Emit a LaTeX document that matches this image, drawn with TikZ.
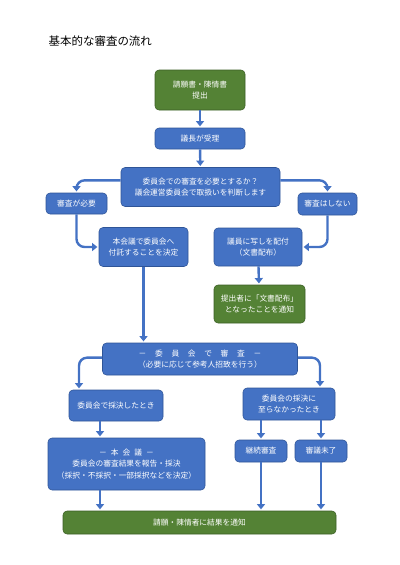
\documentclass[tikz,border=0pt]{standalone}
\usepackage{fontspec}
\setmainfont{Noto Sans CJK JP}
\usepackage{tikz}
\usetikzlibrary{arrows.meta,calc,positioning}
\definecolor{boxblue}{HTML}{4472C4}
\definecolor{boxblueline}{HTML}{2F5597}
\definecolor{boxgreen}{HTML}{548235}
\definecolor{boxgreenline}{HTML}{3B5E25}
\newcommand{\gapA}{\hspace{6.5pt}}
\newcommand{\gapB}{\hspace{3pt}}

\begin{document}
\begin{tikzpicture}[x=0.75pt,y=-0.75pt,
    bluebox/.style={draw=boxblueline,fill=boxblue,rounded corners=3pt,text=white,
        align=center,inner sep=0pt,font=\fontsize{5.8}{8.5}\selectfont},
    greenbox/.style={bluebox,draw=boxgreenline,fill=boxgreen},
    arr/.style={draw=boxblue,line width=1.8pt,rounded corners=6pt,
        -{Triangle[length=4pt,width=6pt]},shorten >=1pt}]
    \useasboundingbox (0,0) rectangle (400,565);
    \node[anchor=west,font=\fontsize{8.6}{10}\selectfont] (title) at (44,41) {基本的な審査の流れ};
    % upper part
    \node[greenbox,minimum width=90pt*0.75,minimum height=40pt*0.75] (submit) at (200,90) {請願書・陳情書\\提出};
    \node[bluebox,minimum width=90*0.75pt,minimum height=21*0.75pt] (accept) at (200,138.5) {議長が受理};
    \node[bluebox,minimum width=159*0.75pt,minimum height=39*0.75pt] (judge) at (200.5,187) {委員会での審査を必要とするか？\\議会運営委員会で取扱いを判断します};
    \node[bluebox,minimum width=61*0.75pt,minimum height=21*0.75pt] (need) at (76.5,203.5) {審査が必要};
    \node[bluebox,minimum width=59*0.75pt,minimum height=22*0.75pt] (noneed) at (327.5,204) {審査はしない};
    \node[bluebox,minimum width=89*0.75pt,minimum height=39*0.75pt] (refer) at (143.5,247) {本会議で委員会へ\\付託することを決定};
    \node[bluebox,minimum width=88*0.75pt,minimum height=38*0.75pt] (distrib) at (258,247) {議員に写しを配付\\（文書配布）};
    \node[greenbox,minimum width=91*0.75pt,minimum height=38*0.75pt] (notify) at (259.5,304) {提出者に「文書配布」\\となったことを通知};
    % committee part
    \node[bluebox,minimum width=195*0.75pt,minimum height=32*0.75pt] (review) at (200,359) {－\gapA 委\gapA 員\gapA 会\gapA で\gapA 審\gapA 査\gapA －\\（必要に応じて参考人招致を行う）};
    \node[bluebox,minimum width=94*0.75pt,minimum height=31*0.75pt] (voted) at (116,405.5) {委員会で採決したとき};
    \node[bluebox,minimum width=92*0.75pt,minimum height=32*0.75pt] (notvoted) at (289,404) {委員会の採決に\\至らなかったとき};
    \node[bluebox,minimum width=157*0.75pt,minimum height=52*0.75pt] (plenary) at (126.5,464) {－\gapB 本\gapB 会\gapB 議\gapB －\\委員会の審査結果を報告・採決\\（採択・不採択・一部採択などを決定）};
    \node[bluebox,minimum width=52*0.75pt,minimum height=22*0.75pt] (cont) at (261,451) {継続審査};
    \node[bluebox,minimum width=52*0.75pt,minimum height=22*0.75pt] (lapse) at (321,451) {審議未了};
    \node[greenbox,minimum width=273*0.75pt,minimum height=23*0.75pt] (result) at (199.5,522.5) {請願・陳情者に結果を通知};
    \coordinate (lx) at (79,0);
    \coordinate (rx) at (320,0);
    \coordinate (px) at (100,0);
    % connectors
    \draw[arr] (submit) -- (accept);
    \draw[arr] (accept) -- (judge);
    \draw[arr] ([yshift=5pt]judge.west) -| (need.north);
    \draw[arr] ([yshift=5pt]judge.east) -| (noneed.north);
    \draw[arr] (need.south) |- (refer.west);
    \draw[arr] (noneed.south) |- (distrib.east);
    \draw[arr] (distrib) -- (notify);
    \draw[arr] (refer.south) -- (refer.south |- review.north);
    \draw[arr] ([yshift=1pt]review.west) -| (voted.north -| lx);
    \draw[arr] ([yshift=1pt]review.east) -| (notvoted.north -| rx);
    \draw[arr] (voted.south -| px) -- (plenary.north -| px);
    \draw[arr] (notvoted.south -| cont.north) -- (cont.north);
    \draw[arr] (notvoted.south -| lapse.north) -- (lapse.north);
    \draw[arr] (plenary.south -| px) -- (result.north -| px);
    \draw[arr] (cont.south) -- (result.north -| cont.south);
    \draw[arr] (lapse.south) -- (result.north -| lapse.south);
\end{tikzpicture}
\end{document}
